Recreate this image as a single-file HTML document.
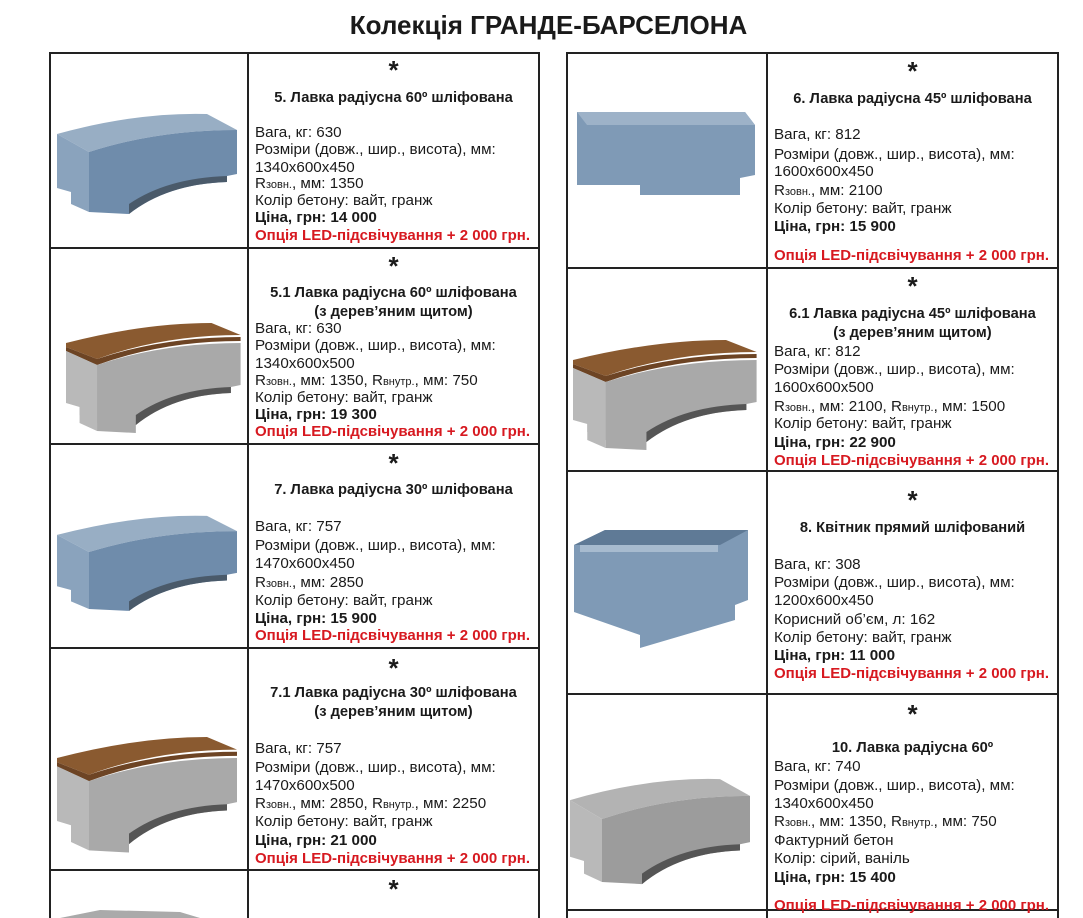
<!DOCTYPE html>
<html><head><meta charset="utf-8"><style>
body{margin:0;background:#fff;width:1083px;height:918px;overflow:hidden;position:relative;font-family:"Liberation Sans",Arial,sans-serif;color:#1a1a1a}
.t{position:absolute;font-size:15.2px;line-height:17px;white-space:nowrap}
.b{font-weight:bold}
.r{color:#d71920;font-weight:bold;font-size:15px}
.c{position:absolute;font-weight:bold;font-size:14.7px;line-height:19px;text-align:center;white-space:nowrap}
.s{position:absolute;font-size:26px;font-weight:bold;line-height:20px;text-align:center}
.ln{position:absolute;background:#222}
sub{font-size:11px;vertical-align:baseline}
svg{position:absolute}
</style></head><body>
<div style="position:absolute;top:10px;left:0;width:1097px;text-align:center;font-size:26px;font-weight:bold;">Колекція ГРАНДЕ-БАРСЕЛОНА</div>

<div class="ln" style="left:49px;top:52px;width:2px;height:866px"></div>
<div class="ln" style="left:247px;top:52px;width:2px;height:866px"></div>
<div class="ln" style="left:538px;top:52px;width:2px;height:866px"></div>
<div class="ln" style="left:49px;top:52px;width:491px;height:2px"></div>
<div class="ln" style="left:49px;top:247px;width:491px;height:2px"></div>
<div class="ln" style="left:49px;top:443px;width:491px;height:2px"></div>
<div class="ln" style="left:49px;top:647px;width:491px;height:2px"></div>
<div class="ln" style="left:49px;top:869px;width:491px;height:2px"></div>
<div class="ln" style="left:566px;top:52px;width:2px;height:866px"></div>
<div class="ln" style="left:766px;top:52px;width:2px;height:866px"></div>
<div class="ln" style="left:1057px;top:52px;width:2px;height:866px"></div>
<div class="ln" style="left:566px;top:52px;width:493px;height:2px"></div>
<div class="ln" style="left:566px;top:267px;width:493px;height:2px"></div>
<div class="ln" style="left:566px;top:470px;width:493px;height:2px"></div>
<div class="ln" style="left:566px;top:693px;width:493px;height:2px"></div>
<div class="ln" style="left:566px;top:909px;width:493px;height:2px"></div>

<svg width="1083" height="918" style="left:0;top:0">
<defs>
<g id="blue">
<path d="M0,22 Q80,0 150,2 L180,18 Q100,18 32,40 Z" fill="#98aec4"/>
<path d="M0,22 L32,40 L32,100 L14,92 L14,80 L0,76 Z" fill="#8aa3bd"/>
<path d="M32,40 Q100,18 180,18 L180,62 L170,64 L170,70 Q110,72 72,102 L32,100 Z" fill="#6f8cab"/>
<path d="M72,102 Q110,72 170,70 L170,64 Q110,66 72,92 Z" fill="#4a5a6a"/>
</g>
<g id="gray">
<path d="M0,22 Q80,0 150,2 L180,18 Q100,18 32,40 Z" fill="#b3b3b3"/>
<path d="M0,22 L32,40 L32,100 L14,92 L14,80 L0,76 Z" fill="#b9b9b9"/>
<path d="M32,40 Q100,18 180,18 L180,62 L170,64 L170,70 Q110,72 72,102 L32,100 Z" fill="#9c9c9c"/>
<path d="M72,102 Q110,72 170,70 L170,64 Q110,66 72,92 Z" fill="#555"/>
</g>
<g id="wood">
<path d="M0,20 Q80,0 150,0 L180,12 Q100,12 32,36 L0,24 Z" fill="#8a5a30"/>
<path d="M0,24 L32,36 Q100,14 180,14 L180,18 Q100,18 32,42 L0,28 Z" fill="#6d4424"/>
<path d="M0,28 L32,42 Q100,20 180,20 L180,62 L170,64 L170,70 Q110,72 72,102 L72,110 L32,108 L32,100 L14,92 L14,80 L0,76 Z" fill="#a9a9a9"/>
<path d="M0,28 L32,42 L32,108 L14,100 L14,84 L0,80 Z" fill="#b9b9b9"/>
<path d="M72,102 Q110,72 170,70 L170,64 Q110,66 72,92 Z" fill="#555"/>
</g>
</defs>
<use href="#blue" transform="translate(57,112)"/>
<use href="#wood" transform="translate(66,323) scale(0.97,1)"/>
<use href="#blue" transform="translate(57,514) scale(1,0.95)"/>
<use href="#wood" transform="translate(57,737) scale(1,1.05)"/>
<path d="M60,918 L100,910 L180,912 L200,918 Z" fill="#aaa"/>
<path d="M577,112 L745,112 L755,125 L755,175 L740,178 L740,195 L640,195 L640,185 L577,185 Z" fill="#7f9ab6"/>
<path d="M577,112 L745,112 L755,125 L587,125 Z" fill="#9db2c8"/>
<use href="#wood" transform="translate(573,340) scale(1.02,1)"/>
<path d="M574,545 L605,530 L748,530 L748,600 L735,605 L735,620 L640,648 L640,635 L574,612 Z" fill="#7f9ab6"/>
<path d="M574,545 L605,530 L748,530 L720,545 Z" fill="#5f7a96"/>
<path d="M580,545 L718,545 L718,552 L580,552 Z" fill="#a7bbcf"/>
<use href="#gray" transform="translate(570,777) scale(1,1.05)"/>
</svg>

<div class="s" style="left:248px;width:291px;top:60px">*</div>
<div class="c" style="left:248px;width:291px;top:89px">5. Лавка радіусна 60º шліфована</div>
<div class="t" style="left:255px;top:124px">Вага, кг: 630</div>
<div class="t" style="left:255px;top:141px">Розміри (довж., шир., висота), мм:</div>
<div class="t" style="left:255px;top:159px">1340x600x450</div>
<div class="t" style="left:255px;top:175px">R<sub>зовн.</sub>, мм: 1350</div>
<div class="t" style="left:255px;top:192px">Колір бетону: вайт, гранж</div>
<div class="t b" style="left:255px;top:209px">Ціна, грн: 14 000</div>
<div class="t r" style="left:255px;top:227px">Опція LED-підсвічування + 2 000 грн.</div>

<div class="s" style="left:248px;width:291px;top:256px">*</div>
<div class="c" style="left:248px;width:291px;top:284px">5.1 Лавка радіусна 60º шліфована<br>(з дерев’яним щитом)</div>
<div class="t" style="left:255px;top:320px">Вага, кг: 630</div>
<div class="t" style="left:255px;top:337px">Розміри (довж., шир., висота), мм:</div>
<div class="t" style="left:255px;top:355px">1340x600x500</div>
<div class="t" style="left:255px;top:372px">R<sub>зовн.</sub>, мм: 1350, R<sub>внутр.</sub>, мм: 750</div>
<div class="t" style="left:255px;top:389px">Колір бетону: вайт, гранж</div>
<div class="t b" style="left:255px;top:406px">Ціна, грн: 19 300</div>
<div class="t r" style="left:255px;top:423px">Опція LED-підсвічування + 2 000 грн.</div>

<div class="s" style="left:248px;width:291px;top:453px">*</div>
<div class="c" style="left:248px;width:291px;top:481px">7. Лавка радіусна 30º шліфована</div>
<div class="t" style="left:255px;top:518px">Вага, кг: 757</div>
<div class="t" style="left:255px;top:537px">Розміри (довж., шир., висота), мм:</div>
<div class="t" style="left:255px;top:555px">1470x600x450</div>
<div class="t" style="left:255px;top:574px">R<sub>зовн.</sub>, мм: 2850</div>
<div class="t" style="left:255px;top:592px">Колір бетону: вайт, гранж</div>
<div class="t b" style="left:255px;top:610px">Ціна, грн: 15 900</div>
<div class="t r" style="left:255px;top:627px">Опція LED-підсвічування + 2 000 грн.</div>

<div class="s" style="left:248px;width:291px;top:658px">*</div>
<div class="c" style="left:248px;width:291px;top:684px">7.1 Лавка радіусна 30º шліфована<br>(з дерев’яним щитом)</div>
<div class="t" style="left:255px;top:740px">Вага, кг: 757</div>
<div class="t" style="left:255px;top:759px">Розміри (довж., шир., висота), мм:</div>
<div class="t" style="left:255px;top:777px">1470x600x500</div>
<div class="t" style="left:255px;top:795px">R<sub>зовн.</sub>, мм: 2850, R<sub>внутр.</sub>, мм: 2250</div>
<div class="t" style="left:255px;top:813px">Колір бетону: вайт, гранж</div>
<div class="t b" style="left:255px;top:832px">Ціна, грн: 21 000</div>
<div class="t r" style="left:255px;top:850px">Опція LED-підсвічування + 2 000 грн.</div>
<div class="s" style="left:248px;width:291px;top:879px">*</div>

<div class="s" style="left:767px;width:291px;top:61px">*</div>
<div class="c" style="left:767px;width:291px;top:90px">6. Лавка радіусна 45º шліфована</div>
<div class="t" style="left:774px;top:126px">Вага, кг: 812</div>
<div class="t" style="left:774px;top:146px">Розміри (довж., шир., висота), мм:</div>
<div class="t" style="left:774px;top:163px">1600x600x450</div>
<div class="t" style="left:774px;top:182px">R<sub>зовн.</sub>, мм: 2100</div>
<div class="t" style="left:774px;top:200px">Колір бетону: вайт, гранж</div>
<div class="t b" style="left:774px;top:218px">Ціна, грн: 15 900</div>
<div class="t r" style="left:774px;top:247px">Опція LED-підсвічування + 2 000 грн.</div>

<div class="s" style="left:767px;width:291px;top:276px">*</div>
<div class="c" style="left:767px;width:291px;top:305px">6.1 Лавка радіусна 45º шліфована<br>(з дерев’яним щитом)</div>
<div class="t" style="left:774px;top:343px">Вага, кг: 812</div>
<div class="t" style="left:774px;top:361px">Розміри (довж., шир., висота), мм:</div>
<div class="t" style="left:774px;top:379px">1600x600x500</div>
<div class="t" style="left:774px;top:398px">R<sub>зовн.</sub>, мм: 2100, R<sub>внутр.</sub>, мм: 1500</div>
<div class="t" style="left:774px;top:415px">Колір бетону: вайт, гранж</div>
<div class="t b" style="left:774px;top:434px">Ціна, грн: 22 900</div>
<div class="t r" style="left:774px;top:452px">Опція LED-підсвічування + 2 000 грн.</div>

<div class="s" style="left:767px;width:291px;top:490px">*</div>
<div class="c" style="left:767px;width:291px;top:519px">8. Квітник прямий шліфований</div>
<div class="t" style="left:774px;top:556px">Вага, кг: 308</div>
<div class="t" style="left:774px;top:574px">Розміри (довж., шир., висота), мм:</div>
<div class="t" style="left:774px;top:592px">1200x600x450</div>
<div class="t" style="left:774px;top:611px">Корисний об’єм, л: 162</div>
<div class="t" style="left:774px;top:629px">Колір бетону: вайт, гранж</div>
<div class="t b" style="left:774px;top:647px">Ціна, грн: 11 000</div>
<div class="t r" style="left:774px;top:665px">Опція LED-підсвічування + 2 000 грн.</div>

<div class="s" style="left:767px;width:291px;top:704px">*</div>
<div class="c" style="left:767px;width:291px;top:739px">10. Лавка радіусна 60º</div>
<div class="t" style="left:774px;top:758px">Вага, кг: 740</div>
<div class="t" style="left:774px;top:777px">Розміри (довж., шир., висота), мм:</div>
<div class="t" style="left:774px;top:795px">1340x600x450</div>
<div class="t" style="left:774px;top:813px">R<sub>зовн.</sub>, мм: 1350, R<sub>внутр.</sub>, мм: 750</div>
<div class="t" style="left:774px;top:832px">Фактурний бетон</div>
<div class="t" style="left:774px;top:850px">Колір: сірий, ваніль</div>
<div class="t b" style="left:774px;top:869px">Ціна, грн: 15 400</div>
<div class="t r" style="left:774px;top:897px">Опція LED-підсвічування + 2 000 грн.</div>
</body></html>
